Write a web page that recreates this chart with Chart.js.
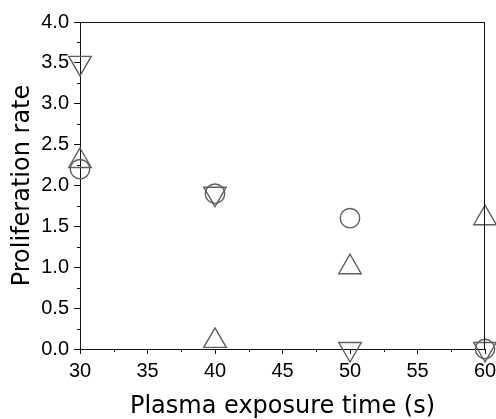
<!DOCTYPE html>
<html>
<head>
<meta charset="utf-8">
<script src="https://cdn.jsdelivr.net/npm/chart.js@4/dist/chart.umd.min.js"></script>
<style>
    body { margin: 0; background: #fff; }
</style>
</head>
<body>
<canvas id="chart" width="496" height="419"></canvas>
<script>
// exposure times (s)
const times = [30, 40, 50, 60];
// proliferation rate for each marker series
const circleRates = [2.2, 1.9, 1.6, 0.0];
const upRates = [2.3, 0.1, 1.0, 1.6];
const downRates = [3.5, 1.9, 0.0, 0.0];

const xTicks = [30, 35, 40, 45, 50, 55, 60];
const yTicks = [0, 0.5, 1.0, 1.5, 2.0, 2.5, 3.0, 3.5, 4.0];

const markerColor = '#5f5f5f';
const axisColor = '#111';

function toPoints(values) {
    return times.map((t, i) => ({ x: t, y: values[i] }));
}

// Frame on top/right and small minor ticks between the labelled ones
const framePlugin = {
    id: 'frame',
    afterDraw(chart) {
        const ctx = chart.ctx;
        const area = chart.chartArea;
        const xs = chart.scales.x;
        const ys = chart.scales.y;
        ctx.save();
        ctx.strokeStyle = axisColor;
        ctx.lineWidth = 1;
        ctx.beginPath();
        ctx.moveTo(area.left, area.top + 0.5);
        ctx.lineTo(area.right, area.top + 0.5);
        ctx.moveTo(area.right - 0.5, area.top);
        ctx.lineTo(area.right - 0.5, area.bottom);
        for (let i = 0; i < xTicks.length - 1; i++) {
            const px = Math.round(xs.getPixelForValue((xTicks[i] + xTicks[i + 1]) / 2)) + 0.5;
            ctx.moveTo(px, area.bottom);
            ctx.lineTo(px, area.bottom + 3);
        }
        for (let i = 0; i < yTicks.length - 1; i++) {
            const py = Math.round(ys.getPixelForValue((yTicks[i] + yTicks[i + 1]) / 2)) + 0.5;
            ctx.moveTo(area.left, py);
            ctx.lineTo(area.left - 3, py);
        }
        ctx.stroke();
        ctx.restore();
    }
};

new Chart(document.getElementById('chart'), {
    type: 'scatter',
    data: {
        datasets: [
            {
                label: 'circle',
                data: toPoints(circleRates),
                pointStyle: 'circle',
                pointRadius: 9.7,
                borderColor: markerColor,
                backgroundColor: 'rgba(0,0,0,0)',
                borderWidth: 1.4,
                clip: false
            },
            {
                label: 'up',
                data: toPoints(upRates),
                pointStyle: 'triangle',
                pointRadius: 13,
                borderColor: markerColor,
                backgroundColor: 'rgba(0,0,0,0)',
                borderWidth: 1.4,
                clip: false
            },
            {
                label: 'down',
                data: toPoints(downRates),
                pointStyle: 'triangle',
                pointRotation: 180,
                pointRadius: 13,
                borderColor: markerColor,
                backgroundColor: 'rgba(0,0,0,0)',
                borderWidth: 1.4,
                clip: false
            }
        ]
    },
    options: {
        responsive: false,
        animation: false,
        layout: {
            autoPadding: false,
            padding: { top: 22, right: 0, left: 0, bottom: 0 }
        },
        plugins: {
            legend: { display: false },
            tooltip: { enabled: false }
        },
        scales: {
            x: {
                type: 'linear',
                min: 30,
                max: 60,
                afterFit: scale => {
                    scale.height = 70;
                    scale.paddingRight = 11;
                },
                afterBuildTicks: scale => { scale.ticks = xTicks.map(v => ({ value: v })); },
                border: { color: axisColor, width: 1 },
                grid: { drawOnChartArea: false, tickLength: 5, tickColor: axisColor },
                ticks: {
                    color: '#000',
                    padding: 5,
                    maxRotation: 0,
                    font: { family: 'Liberation Sans', size: 20 },
                    callback: v => String(v)
                },
                title: {
                    display: true,
                    text: 'Plasma exposure time (s)',
                    color: '#000',
                    font: { family: 'DejaVu Sans', size: 24, lineHeight: 1 },
                    padding: { top: 0, bottom: 0 }
                }
            },
            y: {
                type: 'linear',
                min: 0,
                max: 4,
                afterFit: scale => { scale.width = 80; },
                afterBuildTicks: scale => { scale.ticks = yTicks.map(v => ({ value: v })); },
                border: { color: axisColor, width: 1 },
                grid: { drawOnChartArea: false, tickLength: 6, tickColor: axisColor },
                ticks: {
                    color: '#000',
                    padding: 5,
                    font: { family: 'Liberation Sans', size: 20 },
                    callback: v => Number(v).toFixed(1)
                },
                title: {
                    display: true,
                    text: 'Proliferation rate',
                    color: '#000',
                    font: { family: 'DejaVu Sans', size: 24, lineHeight: 1 },
                    padding: { top: 11, bottom: 0 }
                }
            }
        }
    },
    plugins: [framePlugin]
});
</script>
</body>
</html>
